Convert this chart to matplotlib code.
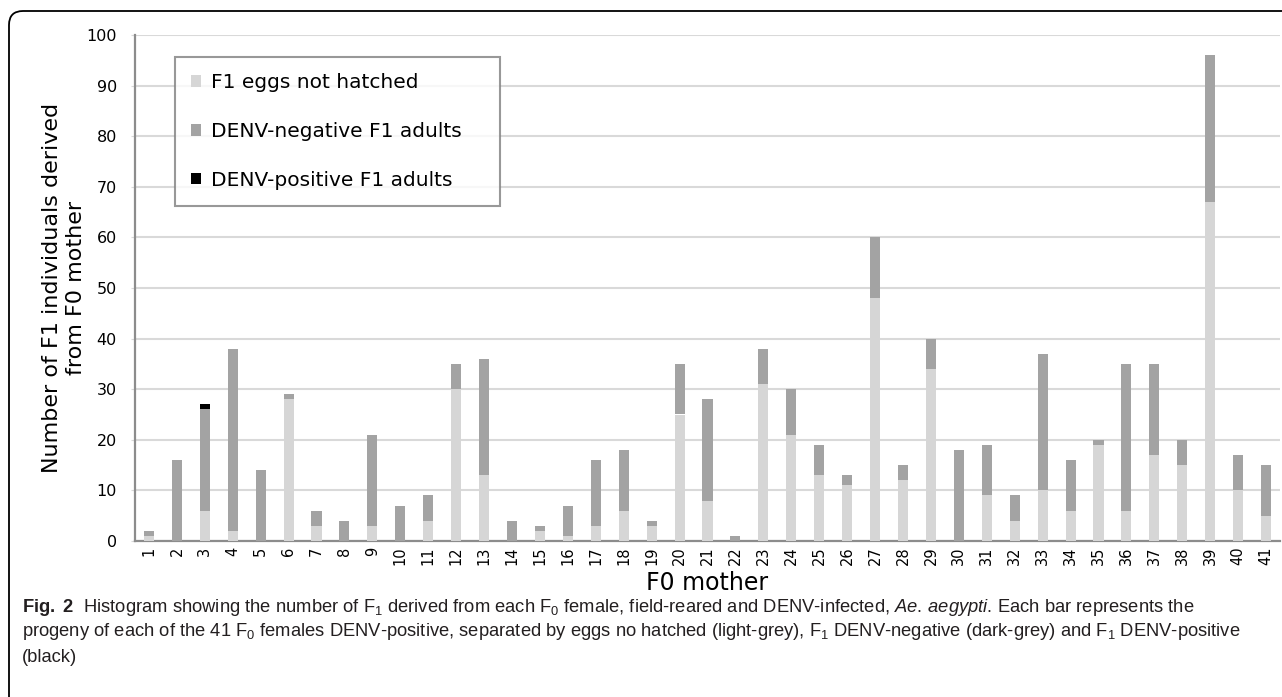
import numpy as np
import matplotlib
matplotlib.use("Agg")
import matplotlib.pyplot as plt
from matplotlib import font_manager
from matplotlib.path import Path
from matplotlib.patches import PathPatch, Patch

# ---- data ----
mothers = list(range(1, 42))
not_hatched = [1, 0, 6, 2, 0, 28, 3, 0, 3, 0, 4, 30, 13, 0, 2, 1, 3, 6, 3, 25, 8,
               0, 31, 21, 13, 11, 48, 12, 34, 0, 9, 4, 10, 6, 19, 6, 17, 15, 67, 10, 5]
denv_neg = [1, 16, 20, 36, 14, 1, 3, 4, 18, 7, 5, 5, 23, 4, 1, 6, 13, 12, 1, 10, 20,
            1, 7, 9, 6, 2, 12, 3, 6, 18, 10, 5, 27, 10, 1, 29, 18, 5, 29, 7, 10]
denv_pos = [0, 0, 1, 0, 0, 0, 0, 0, 0, 0, 0, 0, 0, 0, 0, 0, 0, 0, 0, 0, 0,
            0, 0, 0, 0, 0, 0, 0, 0, 0, 0, 0, 0, 0, 0, 0, 0, 0, 0, 0, 0]
labels = ["F1 eggs not hatched", "DENV-negative F1 adults", "DENV-positive F1 adults"]
colors = ["#d6d6d6", "#a3a3a3", "#000000"]

names = {f.name for f in font_manager.fontManager.ttflist}
cap_font = "Liberation Sans Narrow" if "Liberation Sans Narrow" in names else "Liberation Sans"

plt.rcParams['font.family'] = ['DejaVu Sans']
plt.rcParams['mathtext.fontset'] = 'custom'
plt.rcParams['mathtext.rm'] = cap_font
plt.rcParams['mathtext.it'] = cap_font + ':italic'
plt.rcParams['mathtext.bf'] = cap_font + ':bold'
plt.rcParams['mathtext.default'] = 'regular'

W, H = 1282, 697
fig = plt.figure(figsize=(W / 100, H / 100), dpi=100)

# background layer in pixel coordinates (frame + caption)
bg = fig.add_axes([0, 0, 1, 1], zorder=-5)
bg.set_xlim(0, W)
bg.set_ylim(H, 0)
bg.axis('off')
r = 14
verts = [(9, H + 5), (9, 11 + r), (9, 11), (9 + r, 11), (W + 5, 11)]
codes = [Path.MOVETO, Path.LINETO, Path.CURVE3, Path.CURVE3, Path.LINETO]
bg.add_patch(PathPatch(Path(verts, codes), fill=False, lw=1.3, edgecolor='black'))

cap_kw = dict(fontsize=13.2, ha='left', va='center', family=cap_font, color='#231f20')
bg.text(22, 607, r"$\bf{Fig.\ 2}$  Histogram showing the number of F$_1$ derived from each F$_0$ female, "
        r"field-reared and DENV-infected, $\it{Ae.\,aegypti}$. Each bar represents the", **cap_kw)
bg.text(22, 632, r"progeny of each of the 41 F$_0$ females DENV-positive, separated by eggs no hatched "
        r"(light-grey), F$_1$ DENV-negative (dark-grey) and F$_1$ DENV-positive", **cap_kw)
bg.text(22, 657, "(black)", **cap_kw)

# ---- main chart ----
ax = fig.add_axes([135 / W, 1 - 541 / H, 1145 / W, 506 / H])
x = np.array(mothers)
bw = 0.36
b1 = np.array(not_hatched)
b2 = np.array(denv_neg)
b3 = np.array(denv_pos)
ax.bar(x, b1, bw, color=colors[0], label=labels[0], zorder=3)
ax.bar(x, b2, bw, bottom=b1, color=colors[1], label=labels[1], zorder=3)
ax.bar(x, b3, bw, bottom=b1 + b2, color=colors[2], label=labels[2], zorder=3)

ax.set_xlim(0.5, 41.5)
ax.set_ylim(0, 100)
ax.set_yticks(range(0, 101, 10))
ax.set_xticks(x)
ax.set_xticklabels([str(m) for m in mothers], rotation=90)
ax.yaxis.grid(True, color='#d9d9d9', lw=1.5, zorder=0)
ax.set_axisbelow(True)
for s in ['top', 'right']:
    ax.spines[s].set_visible(False)
for s in ['left', 'bottom']:
    ax.spines[s].set_color('#8c8c8c')
    ax.spines[s].set_linewidth(1.6)
ax.tick_params(axis='y', length=3, color='#d9d9d9', labelsize=11.5, pad=10)
ax.tick_params(axis='x', length=0, labelsize=10.5, pad=4)

ax.set_ylabel("Number of F1 individuals derived\nfrom F0 mother", fontsize=16,
              linespacing=1.25)
ax.yaxis.set_label_coords(-0.043, 0.5)
ax.set_xlabel("F0 mother", fontsize=17)
ax.xaxis.set_label_coords(0.5, -0.06)

handles = [Patch(facecolor=c, edgecolor='none') for c in colors]
leg = ax.legend(handles, labels, loc='upper left', mode='expand',
                bbox_to_anchor=(0.035, 0.9565, 0.284, 0.0),
                fontsize=14.5, frameon=True, fancybox=False, labelspacing=1.48,
                handlelength=0.5, handleheight=0.5, handletextpad=0.5,
                borderpad=0.8, borderaxespad=0)
leg.get_frame().set_edgecolor('#7f7f7f')
leg.get_frame().set_linewidth(1.5)

fig.savefig("out.png", dpi=100)
